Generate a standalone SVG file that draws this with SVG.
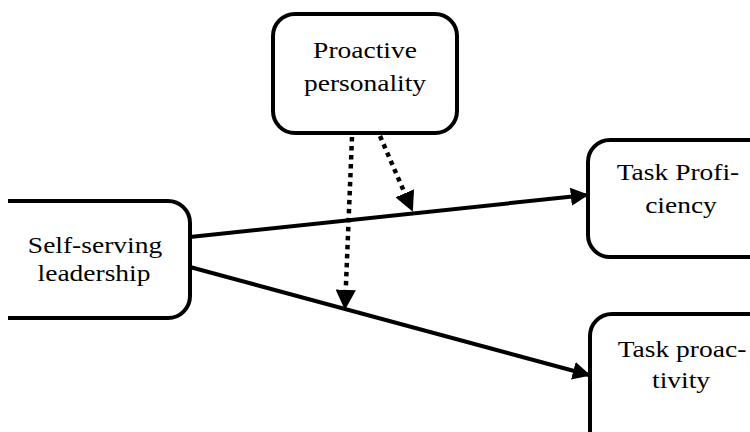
<svg xmlns="http://www.w3.org/2000/svg" width="750" height="432" viewBox="0 0 750 432">
<style>
.box{fill:#fff;stroke:#000;stroke-width:4}
.ln{stroke:#000;stroke-width:4;fill:none}
.dt{stroke:#000;stroke-width:4.5;fill:none;stroke-dasharray:4.5 4.5}
</style>
<defs>
<marker id="ah" viewBox="0 0 10 10" refX="9" refY="5" markerWidth="4.5" markerHeight="4.5" markerUnits="strokeWidth" orient="auto">
<path d="M0,0 L10,5 L0,10 Z" fill="#000"/>
</marker>
</defs>
<g font-family="Liberation Serif" font-size="23.5" fill="#000" text-anchor="middle">
<g id="proactive-personality">
<rect class="box" x="273" y="14" width="184" height="119" rx="22"/>
<text transform="translate(365,58) scale(1.17,1)">Proactive</text>
<text transform="translate(365,91) scale(1.17,1)">personality</text>
</g>
<g id="self-serving-leadership">
<path class="box" d="M8,201 H168 A22,22 0 0 1 190,223 V296 A22,22 0 0 1 168,318 H8"/>
<text transform="translate(95,253) scale(1.17,1)">Self-serving</text>
<text transform="translate(94,281) scale(1.17,1)">leadership</text>
</g>
<g id="task-proficiency">
<path class="box" d="M760,140 H610 A22,22 0 0 0 588,162 V235 A22,22 0 0 0 610,257 H760"/>
<text transform="translate(678,180) scale(1.17,1)">Task Profi-</text>
<text transform="translate(681,213) scale(1.17,1)">ciency</text>
</g>
<g id="task-proactivity">
<path class="box" d="M760,314 H612 A22,22 0 0 0 590,336 V440"/>
<text transform="translate(682,357) scale(1.17,1)">Task proac-</text>
<text transform="translate(681,388) scale(1.17,1)">tivity</text>
</g>
</g>
<g id="connectors">
<line class="ln" x1="190" y1="237" x2="587" y2="195" marker-end="url(#ah)"/>
<line class="ln" x1="190" y1="267" x2="589" y2="375" marker-end="url(#ah)"/>
<line class="dt" x1="352" y1="137" x2="345" y2="308" marker-end="url(#ah)"/>
<line class="dt" x1="380" y1="136" x2="412" y2="210" marker-end="url(#ah)"/>
</g>
</svg>
